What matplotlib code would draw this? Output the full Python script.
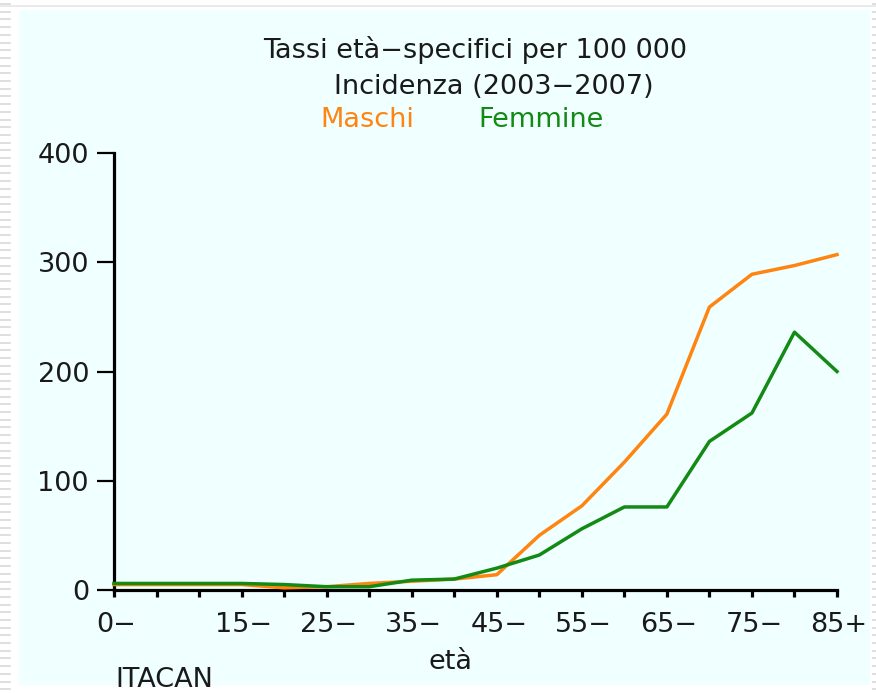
import matplotlib
matplotlib.use("Agg")
import matplotlib.pyplot as plt
import matplotlib.transforms as mtransforms
from matplotlib.patches import Rectangle
import numpy as np

plt.rcParams["font.family"] = ["DejaVu Sans"]

# age groups (start of each 5-year class)
eta = [0, 5, 10, 15, 20, 25, 30, 35, 40, 45, 50, 55, 60, 65, 70, 75, 80, 85]
maschi = [5, 5, 5, 5, 2, 3, 6, 8, 10, 14, 50, 77, 117, 161, 259, 289, 297, 307]
femmine = [6, 6, 6, 6, 5, 3, 3, 9, 10, 20, 32, 56, 76, 76, 136, 162, 236, 200]
xtick_pos = [0, 15, 25, 35, 45, 55, 65, 75, 85]
xtick_lab = ["0\u2212", "15\u2212", "25\u2212", "35\u2212", "45\u2212",
             "55\u2212", "65\u2212", "75\u2212", "85+"]
yticks = [0, 100, 200, 300, 400]

col_m = "#FF8410"
col_f = "#138A13"
txt = "#1a1a1a"
fs = 19.5

W, H = 876, 693
fig = plt.figure(figsize=(W / 100, H / 100), dpi=100)
fig.patch.set_facecolor("white")

# page frame: light cyan panel, grey dashed strips at the sides
fig.add_artist(Rectangle((19 / W, 1 - 685 / H), (870 - 19) / W, (685 - 10) / H,
                         transform=fig.transFigure, facecolor="#F0FFFF",
                         edgecolor="none", zorder=0))
fig.add_artist(plt.Line2D([0, 1], [1 - 6 / H, 1 - 6 / H], transform=fig.transFigure,
                          color="#e6e6e6", lw=1.2, zorder=0))
for yy in np.arange(4, H, 7.7):
    fig.add_artist(plt.Line2D([0, 10 / W], [1 - yy / H] * 2, transform=fig.transFigure,
                              color="#dcdcdc", lw=1.3, zorder=0))
    fig.add_artist(plt.Line2D([873 / W, 1], [1 - yy / H] * 2, transform=fig.transFigure,
                              color="#dcdcdc", lw=1.3, zorder=0))

ax = fig.add_axes([114 / W, 1 - 590 / H, (837 - 114) / W, (590 - 153) / H])
ax.patch.set_visible(False)

ax.plot(eta, maschi, color=col_m, lw=2.5, clip_on=False, zorder=3)
ax.plot(eta, femmine, color=col_f, lw=2.5, clip_on=False, zorder=4)

ax.set_xlim(0, 85)
ax.set_ylim(0, 400)
for s in ["top", "right"]:
    ax.spines[s].set_visible(False)
for s in ["left", "bottom"]:
    ax.spines[s].set_linewidth(2.3)
    ax.spines[s].set_color("black")

ax.set_xticks(eta, minor=True)
ax.set_xticks(xtick_pos)
ax.set_xticklabels(xtick_lab)
ax.set_yticks(yticks)
ax.set_yticklabels([str(v) for v in yticks])
ax.tick_params(axis="x", which="both", direction="out", length=5, width=2.3,
               color="black", labelsize=fs, labelcolor=txt, pad=11)
ax.tick_params(axis="y", direction="out", length=12, width=1.6, color="black",
               labelsize=fs, labelcolor=txt, pad=6)
offset = mtransforms.ScaledTranslation(2 / 100, 0, fig.dpi_scale_trans)
for lab in ax.get_xticklabels():
    lab.set_transform(lab.get_transform() + offset)

# titles and labels
fig.text(475 / W, 1 - 50 / H, "Tassi et\u00e0\u2212specifici per 100 000", ha="center",
         va="center", fontsize=fs, color=txt)
fig.text(494 / W, 1 - 87 / H, "Incidenza (2003\u22122007)", ha="center",
         va="center", fontsize=fs, color=txt)
fig.text(320 / W, 1 - 120 / H, "Maschi", ha="left", va="center", fontsize=fs, color=col_m)
fig.text(478 / W, 1 - 120 / H, "Femmine", ha="left", va="center", fontsize=fs, color=col_f)
fig.text(450 / W, 1 - 662 / H, "et\u00e0", ha="center", va="center", fontsize=fs, color=txt)
fig.text(115 / W, 1 - 680 / H, "ITACAN", ha="left", va="center", fontsize=fs, color=txt)

fig.savefig("out.png", dpi=100)
